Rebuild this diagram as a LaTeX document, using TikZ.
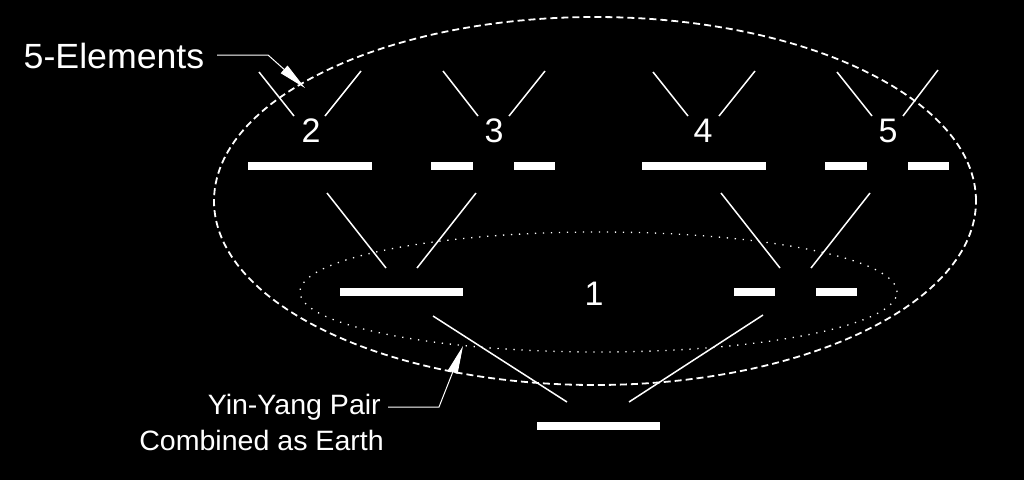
\documentclass[tikz,border=0pt]{standalone}
\usepackage{fontspec}
\setmainfont{Liberation Sans}
\newfontfamily\lblfont[FakeStretch=1.02]{Liberation Sans}
\usetikzlibrary{arrows.meta}
\begin{document}
\begin{tikzpicture}[x=1pt,y=-1pt,
  bar/.style={fill=white,inner sep=0pt,minimum height=8pt,outer sep=0pt},
  stroke/.style={white,line width=1.5pt},
  leader/.style={white,line width=1pt,-{Triangle[length=28pt,width=10pt]}},
  digit/.style={white,inner sep=0pt,font=\fontsize{34}{40}\selectfont},
  label/.style={white,inner sep=0pt,font=\lblfont\fontsize{28}{32}\selectfont},
]
\fill[black] (0,0) rectangle (1024,480);
\useasboundingbox (0,0) rectangle (1024,480);

% enclosing ellipses
\draw[white,line width=1.8pt,dash pattern=on 7pt off 4pt] (595,201) ellipse [x radius=381pt, y radius=184pt];
\draw[white,line width=1.3pt,dash pattern=on 1.3pt off 6.7pt] (598.5,292) ellipse [x radius=298.5pt, y radius=60pt];

% top row of bars
\node[bar,minimum width=124pt] (y2) at (310,166) {};
\node[bar,minimum width=42pt] (y3a) at (452,166) {};
\node[bar,minimum width=41pt] (y3b) at (534.5,166) {};
\node[bar,minimum width=124pt] (y4) at (704,166) {};
\node[bar,minimum width=42pt] (y5a) at (846,166) {};
\node[bar,minimum width=41pt] (y5b) at (928.5,166) {};

% middle row
\node[bar,minimum width=123pt] (m1) at (401.5,292) {};
\node[bar,minimum width=41pt] (m2a) at (754.5,292) {};
\node[bar,minimum width=41pt] (m2b) at (836.5,292) {};

% bottom bar
\node[bar,minimum width=123pt] (earth) at (598.5,426) {};

% numbers
\node[digit] (n2) at (311,131) {2};
\node[digit] (n3) at (494,131) {3};
\node[digit] (n4) at (703,131) {4};
\node[digit] (n5) at (888,131) {5};
\node[digit] (n1) at (594,294) {1};

% strokes above the top row
\draw[stroke] (259,72) -- (294,116);
\draw[stroke] (361,71) -- (325,116);
\draw[stroke] (443,71) -- (478,116);
\draw[stroke] (545,71) -- (509,116);
\draw[stroke] (653,72) -- (688,116);
\draw[stroke] (755,71) -- (719,116);
\draw[stroke] (837,72) -- (872,116);
\draw[stroke] (938,70) -- (903,116);

% strokes between rows
\draw[stroke] (327,193) -- (386,268);
\draw[stroke] (476,193) -- (417,268);
\draw[stroke] (721,193) -- (780,268);
\draw[stroke] (870,193) -- (811,268);

% strokes to the bottom bar
\draw[stroke] (433,316) -- (567,402);
\draw[stroke] (763,315) -- (629,402);

% labels with leaders
\node[label,anchor=west,font=\lblfont\fontsize{35}{40}\selectfont] (five) at (23.5,56) {5-Elements};
\coordinate (fiveA) at (217,55);
\coordinate (fiveB) at (268,55);
\coordinate (fiveT) at (305,88);
\draw[leader] (fiveA) -- (fiveB) -- (fiveT);

\node[label,anchor=base east] (yy) at (381,414) {Yin-Yang Pair};
\node[label,anchor=base east] (ce) at (384,450) {Combined as Earth};
\coordinate (yyA) at (388,407);
\coordinate (yyB) at (439,407);
\coordinate (yyT) at (463,346);
\draw[leader] (yyA) -- (yyB) -- (yyT);
\end{tikzpicture}
\end{document}
